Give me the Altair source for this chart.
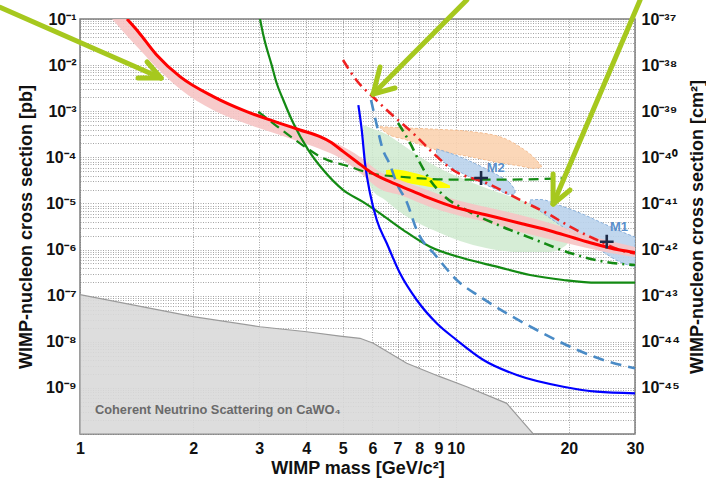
import altair as alt
import pandas as pd

# ---------------- data ----------------
# WIMP mass [GeV/c^2] and cross section [pb]
red_m = [1.334, 1.429, 1.600, 1.846, 2.264, 2.778, 3.407, 3.851, 4.352, 4.628, 5.021, 5.452, 5.914, 6.686,
         7.556, 8.542, 9.85, 12.09, 14.83, 18.19, 22.32, 27.37, 30]
red_s = [1e-1, 5.31e-2, 1.66e-2, 5.61e-3, 2.07e-3, 9.77e-4, 5.47e-4, 3.92e-4, 2.80e-4, 2.18e-4, 1.33e-4, 8.04e-5,
         4.88e-5, 2.96e-5, 1.95e-5, 1.29e-5, 8.49e-6, 5.61e-6, 3.71e-6, 2.44e-6, 1.48e-6, 9.77e-7, 8.63e-7]

pink_m = [1.217, 1.334, 1.445, 1.603, 1.846, 2.259, 2.783, 3.407, 3.851, 4.352, 4.92, 5.564, 6.288, 7.107,
          8.542, 9.836, 12.04, 14.83, 18.16, 22.36, 25.74, 30]
pink_hi = [0.142, 0.1, 4.97e-2, 1.66e-2, 5.81e-3, 2.14e-3, 1.01e-3, 5.56e-4, 3.92e-4, 2.76e-4, 1.85e-4, 1.02e-4,
           4.81e-5, 3.22e-5, 1.86e-5, 1.25e-5, 8.37e-6, 5.61e-6, 3.58e-6, 2.07e-6, 1.53e-6, 1.14e-6]
pink_lo = [0.1, 4.28e-2, 2.13e-2, 8.65e-3, 3.03e-3, 1.06e-3, 5.28e-4, 3.05e-4, 2.15e-4, 1.52e-4, 9.66e-5, 4.57e-5,
           2.06e-5, 1.52e-5, 8.37e-6, 5.90e-6, 3.96e-6, 2.40e-6, 1.61e-6, 1.08e-6, 8.41e-7, 6.89e-7]

green_m = [3.014, 3.075, 3.237, 3.338, 3.476, 3.697, 4.053, 4.442, 5.021, 5.677, 6.288, 7.253, 8.542, 10.48,
           12.86, 15.77, 19.34, 23.73, 30]
green_s = [1e-1, 4.50e-2, 1.00e-2, 4.04e-3, 1.75e-3, 5.47e-4, 1.44e-4, 5.31e-5, 1.95e-5, 1.07e-5, 6.11e-6,
           2.65e-6, 1.15e-6, 6.46e-7, 4.25e-7, 2.81e-7, 2.19e-7, 1.91e-7, 1.91e-7]

gdash_m = [2.983, 3.338, 3.851, 4.442, 5.231, 5.914, 7.107, 9.656, 13.12, 19.18]
gdash_s = [9.77e-4, 4.78e-4, 2.01e-4, 9.53e-5, 6.27e-5, 4.51e-5, 3.80e-5, 3.30e-5, 3.27e-5, 3.51e-5]

gdd_m = [7.021, 7.556, 8.035, 8.542, 9.195, 10.91, 13.36, 16.36, 20.15, 24.67, 30]
gdd_s = [5.56e-4, 2.05e-4, 7.53e-5, 3.22e-5, 1.60e-5, 6.52e-6, 3.08e-6, 1.61e-6, 8.41e-7, 5.51e-7, 4.62e-7]

rdd_m = [5.012, 5.462, 6.026, 6.686, 7.888, 8.703, 9.836, 12.12, 14.83, 17.50, 20.15, 23.77, 27.37, 30]
rdd_s = [1.29e-2, 4.52e-3, 2.03e-3, 9.14e-4, 2.76e-4, 1.24e-4, 5.31e-5, 2.74e-5, 1.19e-5, 6.11e-6, 3.13e-6,
         1.61e-6, 9.77e-7, 8.20e-7]

blue_m = [5.506, 5.621, 5.736, 5.914, 6.163, 6.553, 7.107, 7.874, 8.899, 10.06, 11.85, 14.54, 19.34, 23.73, 30]
blue_s = [1.36e-3, 3.92e-4, 7.43e-5, 1.66e-5, 4.38e-6, 1.37e-6, 3.05e-7, 8.05e-8, 2.52e-8, 1.09e-8, 4.03e-9,
          1.90e-9, 1.06e-9, 8.26e-10, 7.62e-10]

bdash_m = [5.951, 6.163, 6.366, 6.686, 6.978, 7.406, 7.874, 8.899, 10.06, 11.61, 13.67, 16.43, 20.15, 24.71, 30]
bdash_s = [1.75e-3, 5.02e-4, 1.67e-4, 6.83e-5, 2.64e-5, 1.07e-5, 2.65e-6, 7.00e-7, 2.19e-7, 9.48e-8, 4.14e-8,
           1.80e-8, 7.82e-9, 4.03e-9, 2.66e-9]

nu_m = [1, 2, 3.014, 4.01, 4.92, 5.564, 6.035, 7.406, 9.08, 10.70, 13.67, 16.09]
nu_s = [1.05e-7, 3.50e-8, 2.12e-8, 1.65e-8, 1.33e-8, 1.19e-8, 9.27e-9, 3.41e-9, 1.75e-9, 1.06e-9, 4.62e-10, 1e-10]
nu_floor = 1e-10
nu_label = ["Coherent Neutrino Scattering on CaWO₄"]
nu_label_m = [1.096]
nu_label_s = [3.3e-10]

orange_m = [6.288, 6.553, 7.406, 8.899, 10.92, 13.39, 14.83, 16.09, 16.9]
orange_hi = [4.62e-4, 4.55e-4, 4.33e-4, 4.06e-4, 3.63e-4, 2.63e-4, 1.68e-4, 1.02e-4, 6.5e-5]
orange_lo = [4.4e-4, 3.32e-4, 2.38e-4, 1.44e-4, 1.03e-4, 7.43e-5, 6.49e-5, 5.78e-5, 6.0e-5]

gr_m = [5.667, 5.77, 5.988, 6.484, 7.107, 8.035, 9.08, 10.27, 12.04, 14.83, 17.82, 19.54, 20.15]
gr_hi = [5.02e-4, 4.78e-4, 4.21e-4, 3.29e-4, 2.05e-4, 1.02e-4, 5.73e-5, 3.65e-5, 2.16e-5, 1.19e-5, 6.21e-6,
         2.93e-6, 1.78e-6]
gr_lo = [4.55e-4, 6.83e-5, 2.0e-5, 1.19e-5, 6.52e-6, 3.58e-6, 2.29e-6, 1.53e-6, 1.08e-6, 8.85e-7, 8.85e-7,
         1.19e-6, 1.61e-6]

yel_m = [6.525, 6.892, 7.556, 8.284, 9.08, 9.656]
yel_hi = [5.31e-5, 5.44e-5, 4.81e-5, 3.94e-5, 3.07e-5, 2.45e-5]
yel_lo = [3.94e-5, 3.15e-5, 2.70e-5, 2.39e-5, 2.16e-5, 2.16e-5]

m2_m = [8.89, 9.365, 10.27, 11.61, 13.12, 13.95, 14.38]
m2_hi = [1.52e-4, 1.34e-4, 1.02e-4, 6.49e-5, 3.84e-5, 2.77e-5, 1.95e-5]
m2_lo = [1.18e-4, 7.53e-5, 4.81e-5, 2.92e-5, 1.86e-5, 1.56e-5, 1.60e-5]

m1_m = [15.77, 16.76, 18.95, 21.42, 24.22, 27.37, 30]
m1_hi = [1.19e-5, 1.22e-5, 9.02e-6, 6.21e-6, 3.96e-6, 2.52e-6, 1.87e-6]
m1_lo = [9.72e-6, 6.85e-6, 3.40e-6, 1.78e-6, 9.77e-7, 5.37e-7, 4.19e-7]

best_fit_names = ["M2", "M1"]
best_fit_m = [11.68, 25.23]
best_fit_s = [3.56e-5, 1.48e-6]
best_fit_label_m = [12.09, 25.74]
best_fit_label_s = [5.87e-5, 3.08e-6]

# annotation arrows: shaft + two head strokes each (start -> end)
arrow_x1 = [0.6125, 1.508, 1.427, 10.70, 6.288, 6.892, 30.95, 18.16, 20.15]
arrow_y1 = [0.18, 1.17e-2, 5.25e-3, 0.258, 9.10e-3, 3.19e-3, 0.258, 4.35e-5, 1.95e-5]
arrow_x2 = [1.643, 1.643, 1.643, 6.026, 6.026, 6.026, 18.16, 18.16, 18.16]
arrow_y2 = [5.25e-3, 5.25e-3, 5.25e-3, 2.36e-3, 2.36e-3, 2.36e-3, 9.72e-6, 9.72e-6, 9.72e-6]

# tick labels
x_ticks = [1, 2, 3, 4, 5, 6, 7, 8, 9, 10, 20, 30]
y_decades = [1e-1, 1e-2, 1e-3, 1e-4, 1e-5, 1e-6, 1e-7, 1e-8, 1e-9]
y_left_labels = ["10⁻¹", "10⁻²", "10⁻³", "10⁻⁴", "10⁻⁵", "10⁻⁶", "10⁻⁷", "10⁻⁸", "10⁻⁹"]
y_right_labels = ["10⁻³⁷", "10⁻³⁸", "10⁻³⁹", "10⁻⁴⁰", "10⁻⁴¹", "10⁻⁴²", "10⁻⁴³", "10⁻⁴⁴", "10⁻⁴⁵"]
y_grid = [k * 10.0 ** n for n in range(-10, -1) for k in range(1, 10)] + [1e-1]

# ---------------- chart ----------------
FONT = "Liberation Sans"
XS = alt.Scale(type="log", domain=[1, 30], nice=False)
YS = alt.Scale(type="log", domain=[1e-10, 1e-1], nice=False)


def label_expr(vals, labels):
    expr = "''"
    for v, lab in zip(reversed(vals), reversed(labels)):
        expr = f"abs(datum.value / {v!r} - 1) < 1e-6 ? '{lab}' : {expr}"
    return expr


grid_common = dict(grid=True, gridDash=[1, 1.5], gridColor="#7a7a7a", gridWidth=0.8, gridOpacity=0.85,
                   ticks=False, domain=False, labelFont=FONT, labelFontSize=16, labelFontWeight="bold",
                   labelColor="#111111", titleFont=FONT, titleFontSize=18, titleFontWeight="bold",
                   titleColor="#111111", labelOverlap=False)

X_AXIS = alt.Axis(values=x_ticks, format="d", labelFlush=False, labelPadding=6,
                  title="WIMP mass [GeV/c²]", titleY=34, titleBaseline="middle", **grid_common)
Y_AXIS = alt.Axis(values=y_grid, labelExpr=label_expr(y_decades, y_left_labels), labelPadding=4,
                  title="WIMP-nucleon cross section [pb]", titleAngle=270, titleX=-54, titleY=207.5,
                  titleAlign="center", titleBaseline="middle", **grid_common)
Y_AXIS_RIGHT = alt.Axis(orient="right", values=y_decades, labelExpr=label_expr(y_decades, y_right_labels),
                        grid=False, ticks=False, domain=False, labelFont=FONT, labelFontSize=16,
                        labelFontWeight="bold", labelColor="#111111", labelPadding=6, labelOverlap=False,
                        title="WIMP-nucleon cross section [cm²]", titleFont=FONT, titleFontSize=18,
                        titleFontWeight="bold", titleColor="#111111", titleAngle=270, titleX=62,
                        titleY=207.5, titleAlign="center", titleBaseline="middle")


def xenc(f="m"):
    return alt.X(f"{f}:Q", scale=XS, axis=X_AXIS)


def yenc(f="s"):
    return alt.Y(f"{f}:Q", scale=YS, axis=Y_AXIS)


def line(ms, ss, color, width, dash=None):
    props = dict(color=color, strokeWidth=width, clip=True, interpolate="monotone")
    if dash:
        props["strokeDash"] = dash
    return alt.Chart(pd.DataFrame({"m": ms, "s": ss})).mark_line(**props).encode(x=xenc(), y=yenc())


def band(ms, hi, lo, fill, opacity=1.0, stroke=None, dash=None):
    props = dict(fill=fill, fillOpacity=opacity, clip=True, interpolate="monotone")
    if stroke:
        props.update(stroke=stroke, strokeWidth=0.9)
    if dash:
        props["strokeDash"] = dash
    return alt.Chart(pd.DataFrame({"m": ms, "hi": hi, "lo": lo})).mark_area(**props).encode(
        x=xenc(), y=yenc("hi"), y2="lo:Q")


neutrino = alt.Chart(pd.DataFrame({"m": nu_m, "s": nu_s})).mark_area(
    fill="#d9d9d9", fillOpacity=0.9, stroke="#9a9a9a", strokeWidth=1.2, clip=True).encode(
    x=xenc(), y=yenc(), y2=alt.datum(nu_floor))

nu_text = alt.Chart(pd.DataFrame({"m": nu_label_m, "s": nu_label_s, "t": nu_label})).mark_text(
    align="left", baseline="middle", font=FONT, fontSize=12.8, fontWeight="bold", color="#6a6a6a").encode(
    x=xenc(), y=yenc(), text="t:N")

green_region = band(gr_m, gr_hi, gr_lo, "#cfeacf", 0.85)
orange_region = band(orange_m, orange_hi, orange_lo, "#fbd3b0", 0.9, stroke="#f3b98a", dash=[3, 2])
m2_region = band(m2_m, m2_hi, m2_lo, "#bad3ec", 0.9, stroke="#7fa9d8", dash=[3, 2])
m1_region = band(m1_m, m1_hi, m1_lo, "#bad3ec", 0.9, stroke="#7fa9d8", dash=[3, 2])
yellow_region = band(yel_m, yel_hi, yel_lo, "#ffff00", 1.0)
pink_region = band(pink_m, pink_hi, pink_lo, "#f6c4c4", 0.9)

l_green = line(green_m, green_s, "#138a13", 2.2)
l_gdash = line(gdash_m, gdash_s, "#138a13", 2.2, [10, 6])
l_gdd = line(gdd_m, gdd_s, "#138a13", 2.6, [10, 5, 2, 5])
l_bdash = line(bdash_m, bdash_s, "#4a8bc6", 2.6, [11, 7])
l_blue = line(blue_m, blue_s, "#0000ff", 2.2)
l_rdd = line(rdd_m, rdd_s, "#ee2020", 2.6, [10, 5, 2, 5])
l_red = line(red_m, red_s, "#ff0000", 3.0)

crosses = alt.Chart(pd.DataFrame({"m": best_fit_m, "s": best_fit_s})).mark_point(
    shape="M-1,0L1,0M0,-1L0,1", size=190, filled=False, stroke="#1d2b48", strokeWidth=2.6, opacity=1).encode(
    x=xenc(), y=yenc())

cross_labels = alt.Chart(pd.DataFrame({"m": best_fit_label_m, "s": best_fit_label_s, "t": best_fit_names})).mark_text(
    align="left", baseline="middle", font=FONT, fontSize=13, fontWeight="bold", color="#5a8fcb").encode(
    x=xenc(), y=yenc(), text="t:N")

arrows = alt.Chart(pd.DataFrame({"x1": arrow_x1, "y1": arrow_y1, "x2": arrow_x2, "y2": arrow_y2})).mark_rule(
    color="#a6c81e", strokeWidth=5, strokeCap="round", clip=False).encode(
    x=xenc("x1"), y=yenc("y1"), x2="x2:Q", y2="y2:Q")

main = alt.layer(neutrino, nu_text, green_region, orange_region, m2_region, m1_region, yellow_region,
                 pink_region, l_green, l_gdash, l_gdd, l_bdash, l_blue, l_rdd, l_red, crosses,
                 cross_labels, arrows)

right = alt.Chart(pd.DataFrame({"s": [1e-5]})).mark_point(opacity=0).encode(
    y=alt.Y("s:Q", scale=YS, axis=Y_AXIS_RIGHT))

chart = alt.layer(main, right).resolve_scale(y="independent").properties(
    width=555, height=415,
    autosize=alt.AutoSizeParams(type="none"),
    padding={"left": 80, "top": 19, "right": 71, "bottom": 51},
    background="white",
).configure_view(stroke="#7f7f7f", strokeWidth=1.5)

chart.save("out.html", embed_options={"renderer": "svg", "actions": False})
